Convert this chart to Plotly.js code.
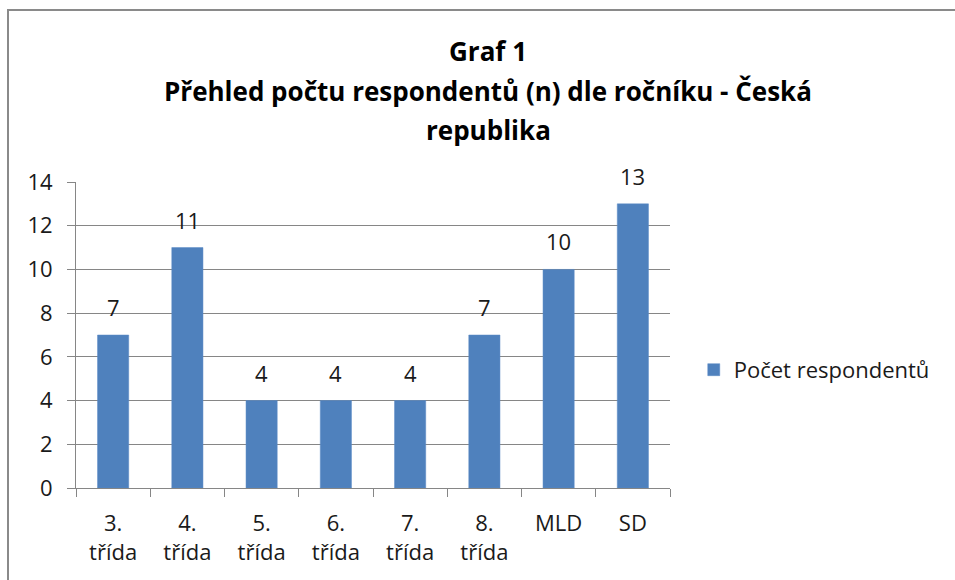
<!DOCTYPE html>
<html>
<head>
<meta charset="utf-8">
<script src="https://cdn.plot.ly/plotly-3.0.1.min.js"></script>
<style>
  html, body { margin: 0; padding: 0; background: #fff; overflow: hidden; }
  #wrap { position: relative; width: 955px; height: 580px; }
  #chart { width: 955px; height: 580px; }
  #frame { position: absolute; left: 7px; top: 9px; width: 960px; height: 600px;
           border-top: 2px solid #8a8a8a; border-left: 2px solid #8a8a8a; pointer-events: none; }
</style>
</head>
<body>
<div id="wrap">
  <div id="chart"></div>
  <div id="frame"></div>
</div>
<script>
const categories = ["3.<br>třída", "4.<br>třída", "5.<br>třída", "6.<br>třída", "7.<br>třída", "8.<br>třída", "MLD", "SD"];
const values = [7, 11, 4, 4, 4, 7, 10, 13];
const seriesName = "Počet respondentů";
const titleLines = ["Graf 1", "Přehled počtu respondentů (n) dle ročníku - Česká", "republika"];
const yTicks = [0, 2, 4, 6, 8, 10, 12, 14];

const FONT = "'Open Sans', 'Noto Sans', sans-serif";

const trace = {
  type: "bar",
  x: categories,
  y: values,
  name: seriesName,
  marker: { color: "#4F81BD", line: { color: "#5a8ac6", width: 0.5 } },
  showlegend: true,
  hoverinfo: "x+y"
};

const annotations = values.map((v, i) => ({
  x: categories[i], y: v, xref: "x", yref: "y",
  text: String(v), showarrow: false,
  yanchor: "middle", yshift: 28,
  font: { family: FONT, size: 22, color: "#1a1a1a" }
}));

const titleY = [1.428, 1.297, 1.170];
titleLines.forEach((t, i) => {
  annotations.push({
    x: 0.694, y: titleY[i], xref: "paper", yref: "paper",
    xanchor: "center", yanchor: "middle",
    text: "<b>" + t + "</b>", showarrow: false,
    font: { family: FONT, size: 26, color: "#000" }
  });
});

const layout = {
  width: 955, height: 580,
  margin: { l: 76, r: 285, t: 182, b: 92 },
  paper_bgcolor: "#fff",
  plot_bgcolor: "#fff",
  font: { family: FONT, size: 22, color: "#1a1a1a" },
  bargap: 0.58,
  xaxis: {
    type: "category",
    showgrid: false,
    showline: true, linecolor: "#868686", linewidth: 1,
    ticks: "outside", ticklen: 8, tickcolor: "#868686", tickson: "boundaries",
    tickfont: { family: FONT, size: 22, color: "#1a1a1a" },
    ticklabelstandoff: 16,
    fixedrange: true
  },
  yaxis: {
    range: [0, 14],
    tickvals: yTicks,
    ticktext: yTicks.map(String),
    showgrid: true, gridcolor: "#868686", gridwidth: 1,
    showline: true, linecolor: "#868686", linewidth: 1,
    ticks: "outside", ticklen: 8, tickcolor: "#868686",
    tickfont: { family: FONT, size: 22, color: "#1a1a1a" },
    ticklabelstandoff: 10,
    zeroline: false,
    fixedrange: true
  },
  legend: {
    x: 1.04, xanchor: "left",
    y: 0.386, yanchor: "middle",
    font: { family: FONT, size: 22, color: "#1a1a1a" },
    bgcolor: "rgba(0,0,0,0)"
  },
  annotations: annotations
};

Plotly.newPlot("chart", [trace], layout, { displayModeBar: false, staticPlot: true });
</script>
</body>
</html>
